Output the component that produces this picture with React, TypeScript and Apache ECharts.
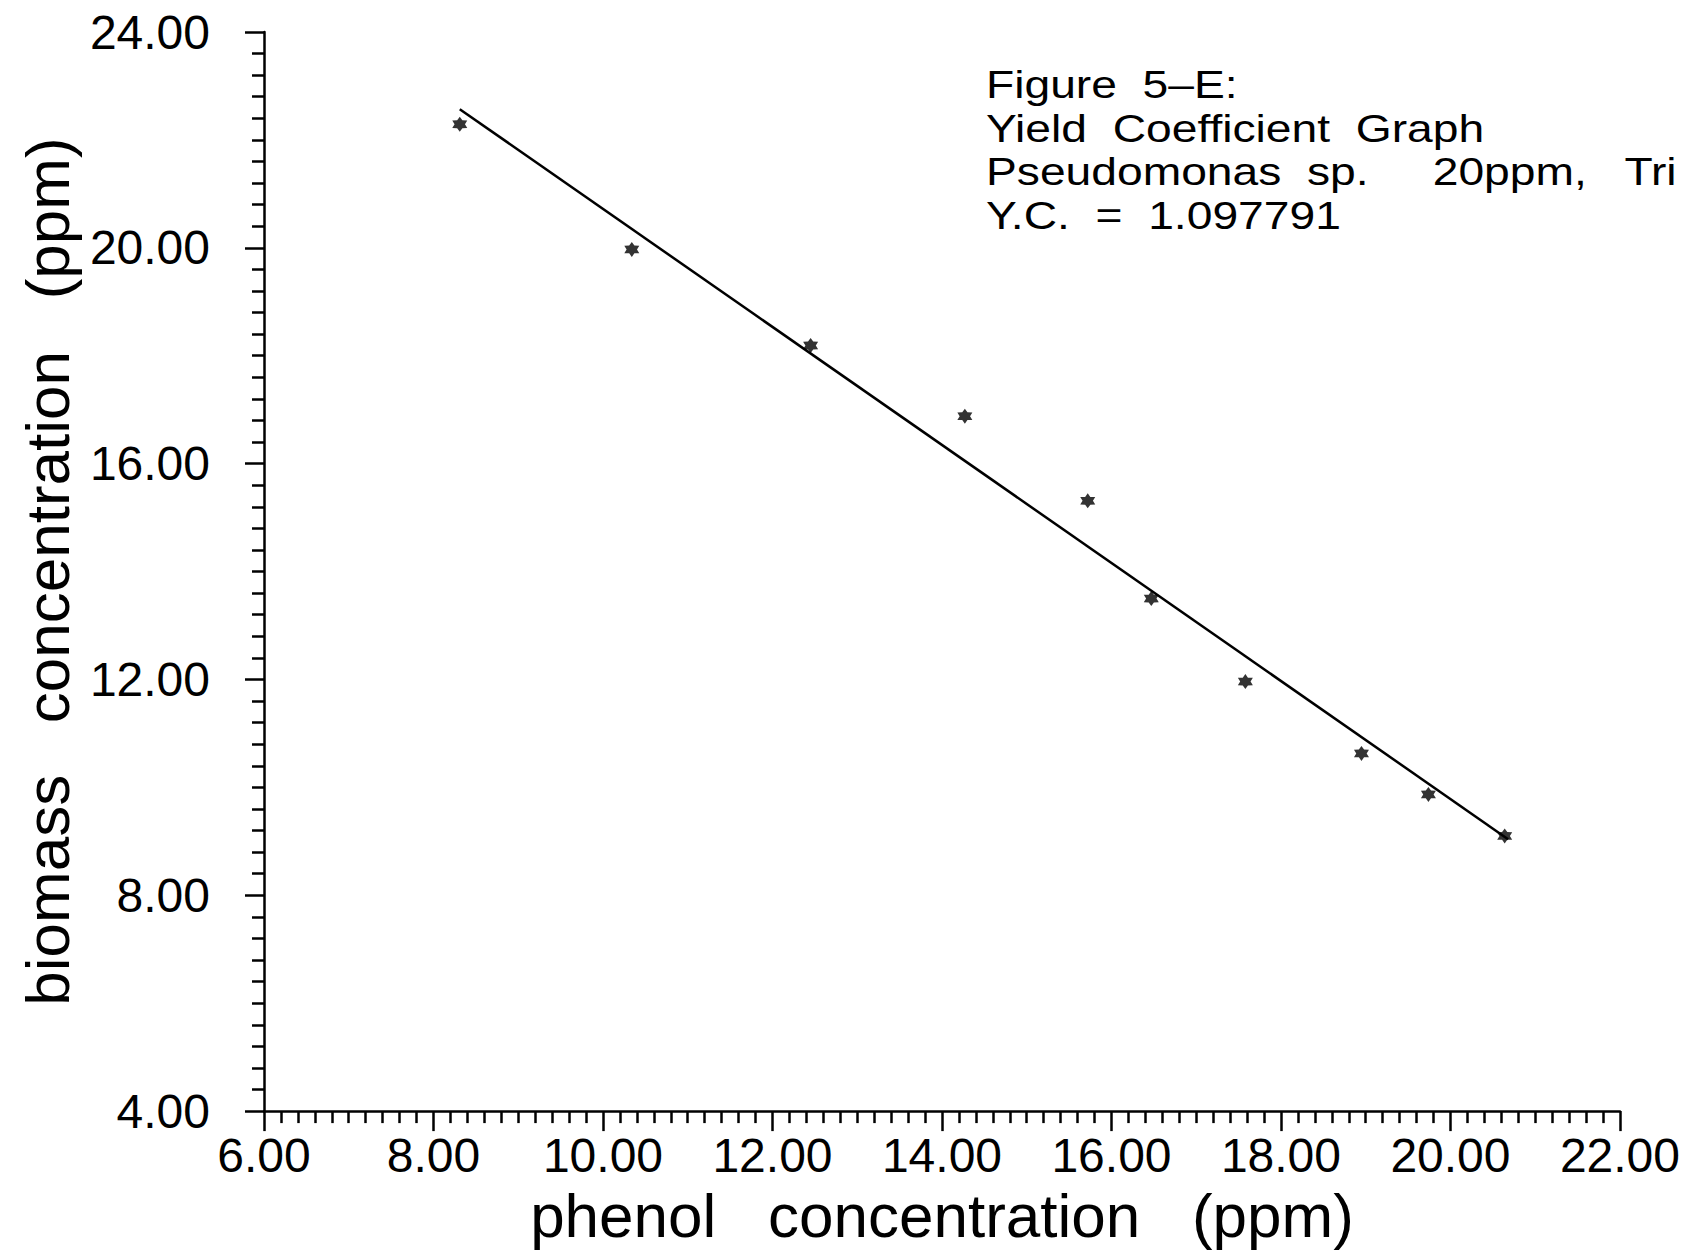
import React, { useEffect, useRef } from "react";
import * as echarts from "echarts";

const phenol = [8.31, 10.34, 12.45, 14.27, 15.72, 16.47, 17.58, 18.95, 19.74, 20.64];
const biomass = [22.29, 19.97, 18.19, 16.88, 15.31, 13.5, 11.96, 10.63, 9.87, 9.1];
const fitX = [8.31, 20.68];
const fitY = [22.57, 9.04];
const noteLines = [
  "Figure  5\u2013E:",
  "Yield  Coefficient  Graph",
  "Pseudomonas  sp.     20ppm,   Tri",
  "Y.C.  =  1.097791",
];
const xTitle = "phenol   concentration   (ppm)";
const yTitle = "biomass   concentration   (ppm)";

const FONT = "'Liberation Sans', Arial, sans-serif";
const STAR =
  "path://M0,-10 L3,-5.2 L8.66,-5 L6,0 L8.66,5 L3,5.2 L0,10 L-3,5.2 L-8.66,5 L-6,0 L-8.66,-5 L-3,-5.2 Z";

export default function App() {
  const ref = useRef<HTMLDivElement>(null);
  useEffect(() => {
    if (!ref.current) return;
    const chart = echarts.init(ref.current, null, { renderer: "svg" });
    const pts = phenol.map((x, i) => [x, biomass[i]]);
    const fit = fitX.map((x, i) => [x, fitY[i]]);
    const noteSize = 38.5;
    const baselines = [98.5, 142, 185.5, 229];
    chart.setOption({
      animation: false,
      backgroundColor: "#ffffff",
      grid: { left: 264, right: 57, top: 32, bottom: 137, containLabel: false },
      xAxis: {
        type: "value",
        min: 6,
        max: 22,
        interval: 2,
        name: xTitle,
        nameLocation: "middle",
        nameGap: 67,
        nameTextStyle: { fontFamily: FONT, fontSize: 62, color: "#000" },
        axisLine: { show: true, onZero: false, lineStyle: { color: "#000", width: 2.5 } },
        axisTick: { show: true, length: 20, lineStyle: { color: "#000", width: 2.5 } },
        minorTick: { show: true, splitNumber: 10, length: 12, lineStyle: { color: "#000", width: 2.5 } },
        splitLine: { show: false },
        minorSplitLine: { show: false },
        axisLabel: {
          margin: 20,
          fontFamily: FONT,
          fontSize: 48,
          color: "#000",
          formatter: (v: number) => v.toFixed(2),
        },
      },
      yAxis: {
        type: "value",
        min: 4,
        max: 24,
        interval: 4,
        name: yTitle,
        nameLocation: "middle",
        nameGap: 168,
        nameTextStyle: { fontFamily: FONT, fontSize: 62, color: "#000" },
        axisLine: { show: true, onZero: false, lineStyle: { color: "#000", width: 2.5 } },
        axisTick: { show: true, length: 19, lineStyle: { color: "#000", width: 2.5 } },
        minorTick: { show: true, splitNumber: 10, length: 12, lineStyle: { color: "#000", width: 2.5 } },
        splitLine: { show: false },
        minorSplitLine: { show: false },
        axisLabel: {
          margin: 54,
          fontFamily: FONT,
          fontSize: 48,
          color: "#000",
          formatter: (v: number) => v.toFixed(2),
        },
      },
      graphic: noteLines.map((t, i) => ({
        type: "text",
        x: 986,
        y: baselines[i] - 0.3465 * noteSize,
        scaleX: 1.2,
        style: {
          text: t,
          font: `${noteSize}px ${FONT}`,
          fill: "#000",
          align: "left",
          verticalAlign: "middle",
        },
      })),
      series: [
        {
          type: "line",
          data: fit,
          symbol: "none",
          lineStyle: { color: "#000", width: 2.5 },
          silent: true,
        },
        {
          type: "scatter",
          data: pts,
          symbol: STAR,
          symbolSize: 15,
          itemStyle: { color: "#000" },
        },
      ],
    });
    return () => chart.dispose();
  }, []);
  return (
    <div
      ref={ref}
      style={{ position: "absolute", left: 0, top: 0, width: 1683, height: 1251, background: "#fff" }}
    />
  );
}
